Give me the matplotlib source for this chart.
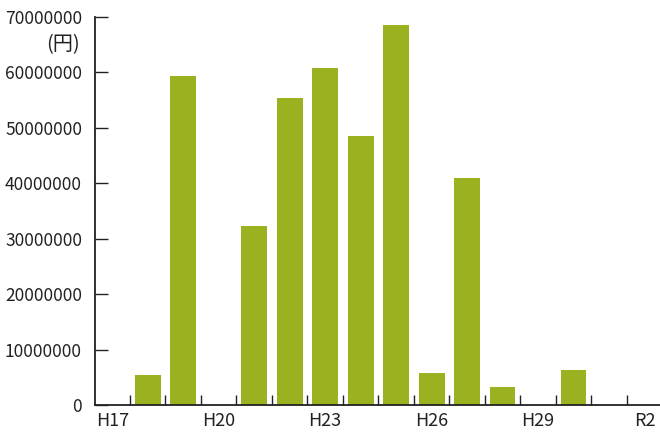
import numpy as np
import matplotlib
matplotlib.use("Agg")
import matplotlib.pyplot as plt

plt.rcParams['font.family'] = ['Noto Sans CJK JP', 'DejaVu Sans']

# fiscal years (Heisei / Reiwa) and amounts in yen
years = ["H17", "H18", "H19", "H20", "H21", "H22", "H23", "H24",
         "H25", "H26", "H27", "H28", "H29", "H30", "R1", "R2"]
amounts = [0, 5400000, 59300000, 0, 32300000, 55400000, 60800000, 48500000,
           68600000, 5800000, 40900000, 3300000, 0, 6300000, 0, 0]
label_years = ["H17", "H20", "H23", "H26", "H29", "R2"]
yticks = [0, 10000000, 20000000, 30000000, 40000000, 50000000, 60000000, 70000000]

bar_color = "#9bb120"
ink = "#222222"

fig = plt.figure(figsize=(6.6, 4.37), dpi=100)
ax = fig.add_axes([94.5 / 660, 32 / 437, 16 * 35.48 / 660, 388 / 437])

x = np.arange(len(years))
ax.bar(x, amounts, width=0.73, color=bar_color, zorder=2)

ax.set_xlim(-0.5, len(years) - 0.5)
ax.set_ylim(0, 70000000)

for side in ("top", "right"):
    ax.spines[side].set_visible(False)
for side in ("left", "bottom"):
    ax.spines[side].set_linewidth(1.3)
    ax.spines[side].set_color(ink)

ax.set_yticks(yticks)
ax.set_yticklabels([str(v) for v in yticks])
ax.tick_params(axis="y", direction="in", length=9.4, width=1, color=ink,
               labelsize=12.5, labelcolor=ink, pad=9)

label_pos = [years.index(y) for y in label_years]
ax.set_xticks(label_pos)
ax.set_xticklabels(label_years)
ax.tick_params(axis="x", which="major", length=0, labelsize=13,
               labelcolor=ink, pad=5)
ax.set_xticks(np.arange(0.5, len(years) - 1, 1.0), minor=True)
ax.tick_params(axis="x", which="minor", direction="in", length=7.2,
               width=1, color=ink)

ax.text(-0.026, 0.928, "(円)", transform=ax.transAxes, ha="right", va="center",
        fontsize=14.5, color=ink)

fig.savefig("out.png", dpi=100)
